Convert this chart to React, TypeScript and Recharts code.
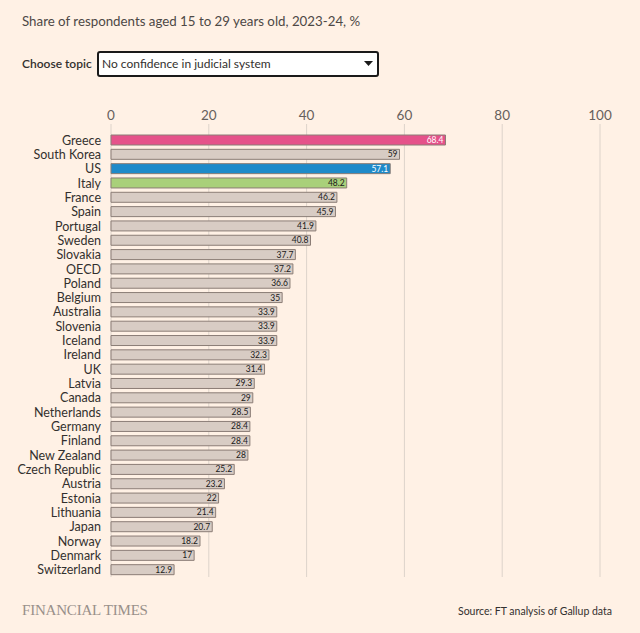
import { BarChart, Bar, XAxis, YAxis, CartesianGrid, Cell, LabelList } from "recharts";

const countries = [
  "Greece", "South Korea", "US", "Italy", "France", "Spain", "Portugal", "Sweden",
  "Slovakia", "OECD", "Poland", "Belgium", "Australia", "Slovenia", "Iceland", "Ireland",
  "UK", "Latvia", "Canada", "Netherlands", "Germany", "Finland", "New Zealand",
  "Czech Republic", "Austria", "Estonia", "Lithuania", "Japan", "Norway", "Denmark", "Switzerland",
];

const noConfidence = [
  68.4, 59, 57.1, 48.2, 46.2, 45.9, 41.9, 40.8,
  37.7, 37.2, 36.6, 35, 33.9, 33.9, 33.9, 32.3,
  31.4, 29.3, 29, 28.5, 28.4, 28.4, 28,
  25.2, 23.2, 22, 21.4, 20.7, 18.2, 17, 12.9,
];

const xTicks = [0, 20, 40, 60, 80, 100];

const highlight: Record<string, string> = {
  Greece: "#e5528a",
  US: "#1f8ac9",
  Italy: "#a9d07a",
};
const whiteLabels = ["Greece", "US"];

const data = countries.map((name, i) => ({ name, value: noConfidence[i] }));

const font = "Lato, 'Open Sans', sans-serif";

function ValueLabel(props: any) {
  const { x, y, width, height, value, index } = props;
  const name = countries[index];
  return (
    <text
      x={x + width - 2}
      y={y + height / 2}
      dy={3}
      textAnchor="end"
      fontSize={8.5}
      fontFamily={font}
      fill={whiteLabels.includes(name) ? "#ffffff" : "#1a1a1a"}
    >
      {value}
    </text>
  );
}

export default function App() {
  return (
    <div
      style={{
        position: "absolute",
        left: 0,
        top: 0,
        width: 640,
        height: 633,
        background: "#fff1e5",
        fontFamily: font,
        color: "#33302e",
      }}
    >
      <div style={{ position: "absolute", left: 22, top: 13, fontSize: 13.3, color: "#4d4845" }}>
        Share of respondents aged 15 to 29 years old, 2023-24, %
      </div>
      <div style={{ position: "absolute", left: 22, top: 56, fontSize: 12, fontWeight: 600, color: "#33302e" }}>
        Choose topic
      </div>
      <div
        style={{
          position: "absolute",
          left: 97,
          top: 51,
          width: 275,
          height: 22,
          border: "2px solid #1a1a1a",
          borderRadius: 3,
          background: "#ffffff",
          fontSize: 12,
          lineHeight: "22px",
          paddingLeft: 3,
          boxSizing: "content-box",
        }}
      >
        No confidence in judicial system
        <svg style={{ position: "absolute", right: 4, top: 8 }} width={9} height={6}>
          <polygon points="0,0 9,0 4.5,5" fill="#1a1a1a" />
        </svg>
      </div>

      <div style={{ position: "absolute", left: 0, top: 0 }}>
        <BarChart
          width={640}
          height={633}
          data={data}
          layout="vertical"
          barCategoryGap={2}
          margin={{ top: 103, right: 40, bottom: 56, left: 0 }}
        >
          <CartesianGrid horizontal={false} stroke="#ddd3ca" strokeWidth={1} />
          <XAxis
            type="number"
            orientation="top"
            domain={[0, 100]}
            ticks={xTicks}
            axisLine={false}
            tickLine={{ stroke: "#ddd3ca" }}
            tickSize={9}
            tickMargin={4}
            height={30}
            tick={{ fontSize: 13.5, fill: "#66605c", fontFamily: font }}
          />
          <YAxis
            type="category"
            dataKey="name"
            width={111}
            axisLine={false}
            tickLine={false}
            tickMargin={4}
            interval={0}
            tick={{ fontSize: 12.5, fill: "#33302e", fontFamily: font }}
          />
          <Bar dataKey="value" stroke="#8b7d76" strokeWidth={1} isAnimationActive={false}>
            {data.map((d) => (
              <Cell key={d.name} fill={highlight[d.name] || "#d8ccc4"} />
            ))}
            <LabelList dataKey="value" content={ValueLabel} />
          </Bar>
        </BarChart>
      </div>

      <div
        style={{
          position: "absolute",
          left: 22,
          top: 602,
          fontSize: 15,
          fontFamily: "'Liberation Serif', 'DejaVu Serif', serif",
          color: "#99908a",
          letterSpacing: -0.2,
        }}
      >
        FINANCIAL TIMES
      </div>
      <div style={{ position: "absolute", right: 28, top: 605, fontSize: 10.5, color: "#33302e" }}>
        Source: FT analysis of Gallup data
      </div>
    </div>
  );
}
